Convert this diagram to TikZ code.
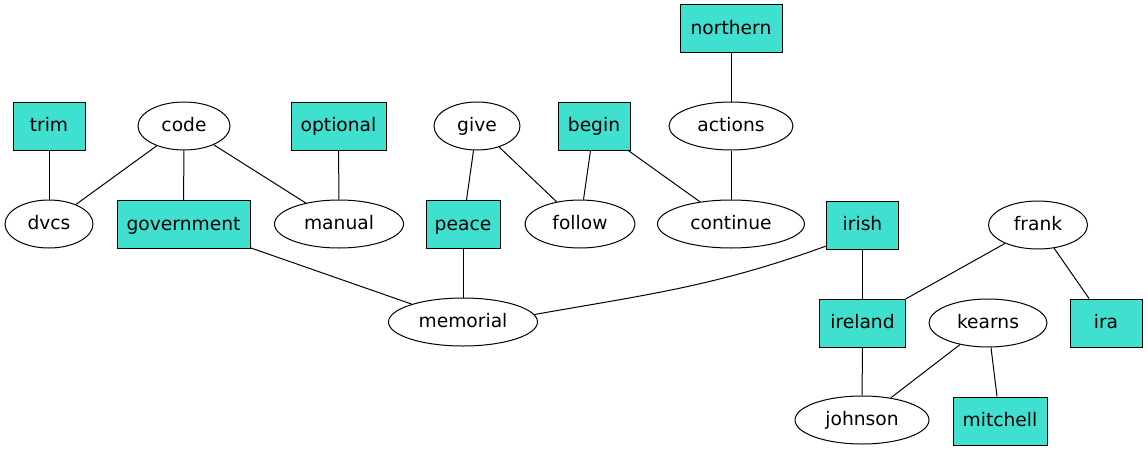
\documentclass[tikz,border=0pt]{standalone}
\usepackage{fontspec}
\setmainfont{DejaVu Sans}
\usetikzlibrary{shapes.geometric}
\definecolor{turq}{HTML}{40E0D0}
\begin{document}
\begin{tikzpicture}[x=0.75pt,y=-0.75pt,
  every node/.style={font=\fontsize{14}{16}\selectfont, inner sep=0pt, line width=0.75pt, text height=11pt, text depth=2.5pt},
  box/.style={rectangle, draw=black, fill=turq, minimum height=36pt},
  ell/.style={ellipse, draw=black, fill=white, minimum height=36pt},
  edge/.style={draw=black, line width=0.75pt}]
\useasboundingbox (0,0) rectangle (1148,453);
% row 0
\node[box, minimum width=76.5pt] (northern) at (731,28.5) {northern};
% row 1
\node[box, minimum width=54pt] (trim) at (49,126) {trim};
\node[ell, minimum width=69pt] (code) at (184,126) {code};
\node[box, minimum width=71.25pt] (optional) at (338.5,126) {optional};
\node[ell, minimum width=64.5pt] (give) at (477,126) {give};
\node[box, minimum width=54pt] (begin) at (594,126) {begin};
\node[ell, minimum width=93pt] (actions) at (731,126) {actions};
% row 2
\node[ell, minimum width=66pt] (dvcs) at (49,224) {dvcs};
\node[box, minimum width=99.75pt] (government) at (183.5,224.5) {government};
\node[ell, minimum width=96.75pt] (manual) at (339,224) {manual};
\node[box, minimum width=55.5pt] (peace) at (463,224.5) {peace};
\node[ell, minimum width=82.5pt] (follow) at (580,224) {follow};
\node[ell, minimum width=110.25pt] (continue) at (731,224) {continue};
\node[box, minimum width=54pt] (irish) at (862.5,225) {irish};
\node[ell, minimum width=74.25pt] (frank) at (1038,225) {frank};
% row 3
\node[ell, minimum width=111.75pt] (memorial) at (463,322) {memorial};
\node[box, minimum width=64.5pt] (ireland) at (862.5,323) {ireland};
\node[ell, minimum width=88.5pt] (kearns) at (988,323) {kearns};
\node[box, minimum width=54pt] (ira) at (1106,323) {ira};
% row 4
\node[ell, minimum width=100.5pt] (johnson) at (862,420) {johnson};
\node[box, minimum width=70.5pt] (mitchell) at (1000,421) {mitchell};
% edges
\draw[edge] (trim) -- (dvcs);
\draw[edge] (code) -- (dvcs);
\draw[edge] (code) -- (government);
\draw[edge] (code) -- (manual);
\draw[edge] (optional) -- (manual);
\draw[edge] (northern) -- (actions);
\draw[edge] (actions) -- (continue);
\draw[edge] (begin) -- (continue);
\draw[edge] (begin) -- (follow);
\draw[edge] (give) -- (follow);
\draw[edge] (give) -- (peace);
\draw[edge] (peace) -- (memorial);
\draw[edge] (government) -- (memorial);
\draw[edge] (irish.210) to[out=200,in=10] (memorial.6);
\draw[edge] (irish) -- (ireland);
\draw[edge] (frank) -- (ireland);
\draw[edge] (frank) -- (ira);
\draw[edge] (ireland) -- (johnson);
\draw[edge] (kearns) -- (johnson);
\draw[edge] (kearns) -- (mitchell);
\end{tikzpicture}
\end{document}
